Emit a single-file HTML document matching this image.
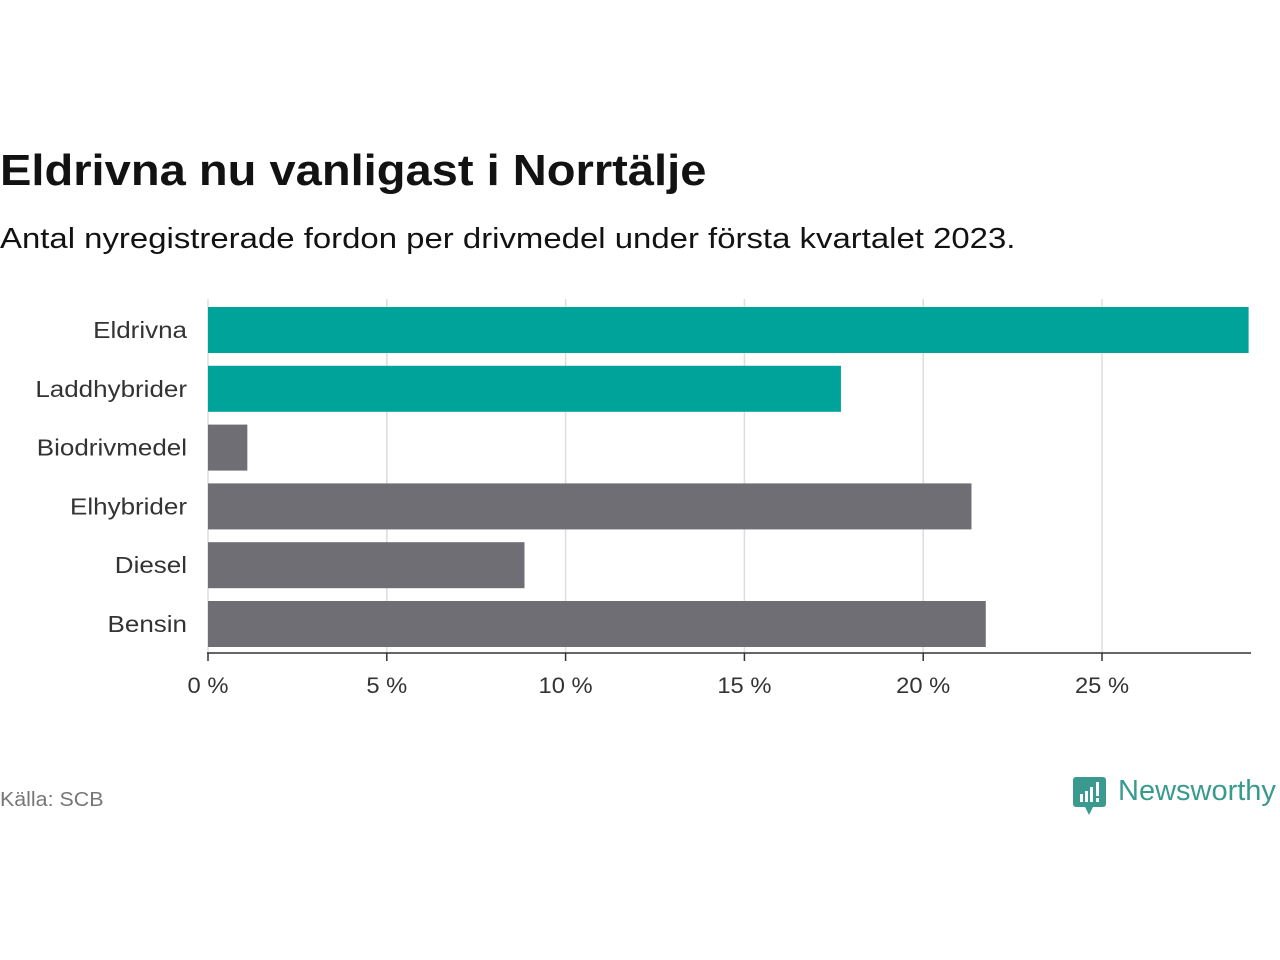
<!DOCTYPE html>
<html><head><meta charset="utf-8"><style>
body{margin:0;width:1280px;height:960px;background:#fff;font-family:"Liberation Sans","DejaVu Sans",sans-serif;position:relative;overflow:hidden}
.t{position:absolute;white-space:nowrap;transform-origin:0 0}
</style></head><body>
<div class="t" style="left:0;top:146px;font-size:44px;font-weight:bold;color:#121212;transform:scaleX(1.07)">Eldrivna nu vanligast i Norrtälje</div>
<div class="t" style="left:0;top:223px;font-size:29px;color:#121212;transform:scaleX(1.135)">Antal nyregistrerade fordon per drivmedel under första kvartalet 2023.</div>
<svg id="c" width="1280" height="960" style="position:absolute;left:0;top:0"></svg>
<div class="t" style="left:0;top:789px;font-size:20px;color:#777;transform:scaleX(1.07)">Källa: SCB</div>
<div style="position:absolute;left:1073px;top:777px">
<svg width="34" height="40" style="position:absolute;left:0;top:0"><rect x="0" y="0" width="33" height="30" rx="3" fill="#3a9a8f"/><polygon points="12,30 20,30 16,38" fill="#3a9a8f"/><rect x="7" y="17" width="3" height="8" fill="#fff"/><rect x="12" y="14" width="3" height="11" fill="#fff"/><rect x="17" y="10" width="3" height="15" fill="#fff"/><rect x="23" y="5" width="3" height="14" fill="#fff"/><rect x="23" y="21" width="3" height="4" fill="#fff"/></svg>
<div class="t" style="left:45px;top:-2px;font-size:29px;color:#3a9a8f">Newsworthy</div>
</div>
<script>
const categories=["Eldrivna","Laddhybrider","Biodrivmedel","Elhybrider","Diesel","Bensin"];
const values=[29.1,17.7,1.1,21.35,8.85,21.75];
const highlight=[true,true,false,false,false,false];
const ticks=[0,5,10,15,20,25];
const tickLabels=["0 %","5 %","10 %","15 %","20 %","25 %"];
const svg=document.getElementById('c');const NS='http://www.w3.org/2000/svg';
const x0=208,pxPer=(1102-208)/25;const X=v=>x0+v*pxPer;
const yTop=307,pitch=58.8,bh=46;const Y=i=>yTop+i*pitch;
function mk(t,a){const e=document.createElementNS(NS,t);for(const k in a)e.setAttribute(k,a[k]);svg.appendChild(e);return e;}
ticks.forEach((t,i)=>{
 const g=mk('line',{x1:X(t),x2:X(t),y1:299,y2:653,stroke:'#ddd','stroke-width':1.5});
 
 
 const tk=mk('line',{x1:X(t),x2:X(t),y1:653,y2:661,stroke:'#333','stroke-width':1.5});
 
 
 const l=mk('text',{x:0,y:0,transform:`translate(${X(t)},693) scale(1.08,1)`,'text-anchor':'middle','font-size':22,fill:'#333'});l.textContent=tickLabels[i];
 
 
});
categories.forEach((c,i)=>{
 const r=mk('rect',{x:X(0),y:Y(i),width:X(values[i])-X(0),height:bh,fill:highlight[i]?'#00a39a':'#6f6e74'});
 
 
 const l=mk('text',{x:0,y:0,transform:`translate(187,${Y(i)+bh/2+8}) scale(1.13,1)`,'text-anchor':'end','font-size':23,fill:'#333'});l.textContent=c;
 
 
});
const ax=mk('line',{x1:207,x2:1251,y1:653,y2:653,stroke:'#333','stroke-width':1.5});


</script>
</body></html>
